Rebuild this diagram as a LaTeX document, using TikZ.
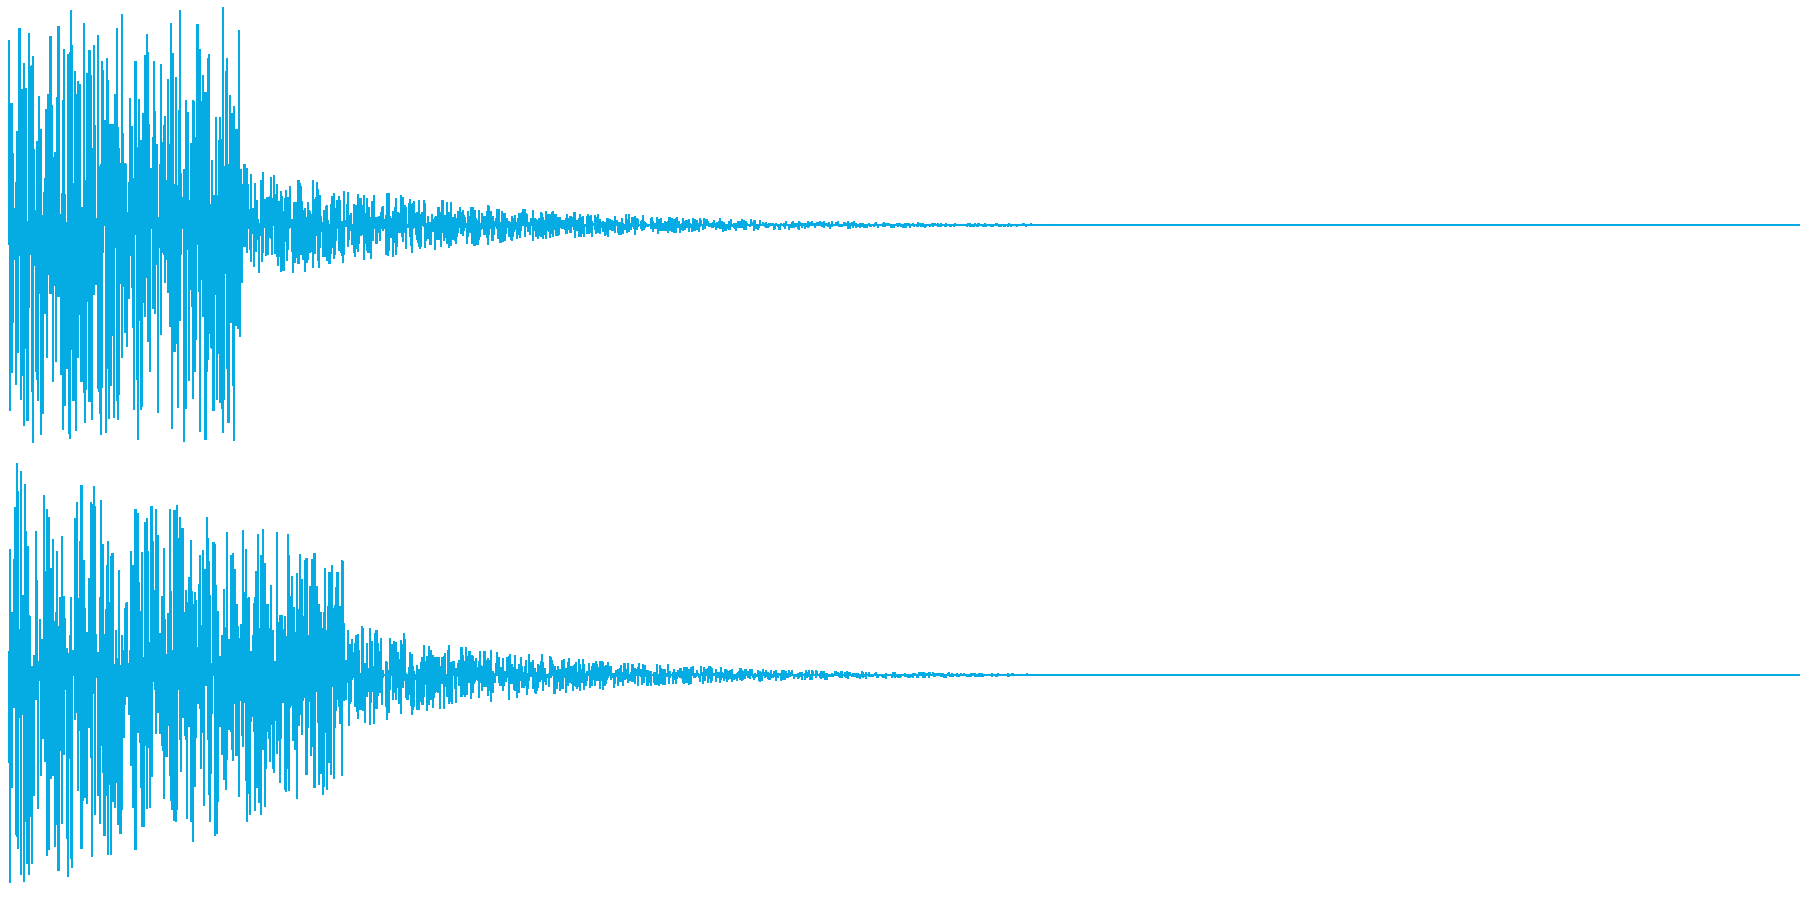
\documentclass[tikz,border=0pt]{standalone}
\usepackage{xcolor}
\definecolor{wave}{RGB}{5,172,228}
\begin{document}
\begin{tikzpicture}[x=0.011480cm,y=-0.011480cm]
		\useasboundingbox (0,0) rectangle (1568,784);
		\coordinate (TopStart) at (8,196);
		\coordinate (TopEnd)   at (1568,196);
		\coordinate (BotStart) at (8,588);
		\coordinate (BotEnd)   at (1568,588);
		\draw [wave, line width=0.4pt] (TopStart) -- (TopEnd);% upper channel baseline
		\draw [wave, line width=0.4pt] (BotStart) -- (BotEnd);% lower channel baseline

		\pgfmathsetseed{7}
		\foreach \x in {8,9,...,960}{% one sample column per pixel
			\pgfmathsetmacro{\envA}{\x<210 ? 190 : 55*exp(-(\x-210)/190)}
			\pgfmathsetmacro{\envB}{\x<300 ? 192*(1-\x/700) : 50*exp(-(\x-300)/170)}
			\pgfmathsetmacro{\ra}{\envA*rnd^1.2}
			\pgfmathsetmacro{\rb}{\envA*rnd^1.2}
			\pgfmathsetmacro{\rc}{\envB*rnd^1.2}
			\pgfmathsetmacro{\rd}{\envB*rnd^1.2}
			\draw [wave, line width=0.6pt] (\x,196-\ra) -- (\x,196+\rb);
			\draw [wave, line width=0.6pt] (\x,588-\rc) -- (\x,588+\rd);
		}
	  \end{tikzpicture}
\end{document}
